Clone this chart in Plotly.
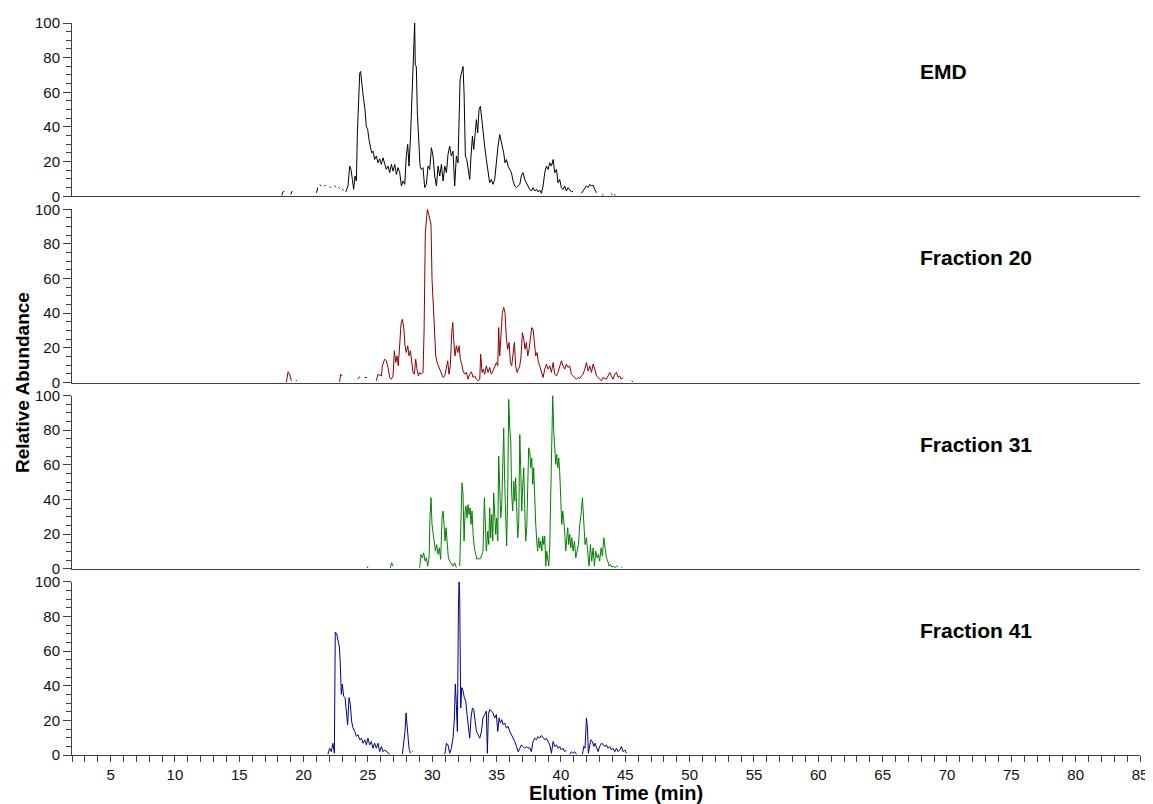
import plotly.graph_objects as go
from plotly.subplots import make_subplots

# ---------------- data ----------------
panel_labels = ["EMD", "Fraction 20", "Fraction 31", "Fraction 41"]
x_tick_values = [5, 10, 15, 20, 25, 30, 35, 40, 45, 50, 55, 60, 65, 70, 75, 80, 85]
y_tick_values = [0, 20, 40, 60, 80, 100]

emd_time = [18.3, 18.4, 18.5, None, 19.0, 19.1, None,
            21.0, 21.1, None, 21.25, 21.35, None, 21.6, 21.7, None, 22.0, 22.1, None,
            22.4, 22.5, None, 22.7, 22.8, None, 23.0, 23.1, None,
            23.27, 23.45, 23.58, 23.68, 23.79, 23.89, 23.99, 24.1, 24.18, 24.25,
            24.36, 24.43, 24.51, 24.59, 24.67, 24.77, 24.87, 24.98, 25.08, 25.19,
            25.29, 25.39, 25.52, 25.65, 25.78, 25.91, 26.04, 26.17, 26.3, 26.43,
            26.56, 26.69, 26.82, 26.95, 27.08, 27.21, 27.34, 27.47, 27.6, 27.73,
            27.86, 27.98, 28.09, 28.19, 28.3, 28.4, 28.5, 28.58, 28.63, 28.68,
            28.76, 28.84, 28.94, 29.05, 29.15, 29.28, 29.41, 29.54, 29.67, 29.8,
            29.93, 30.06, 30.19, 30.32, 30.45, 30.58, 30.71, 30.84, 30.97, 31.1,
            31.22, 31.35, 31.48, 31.61, 31.74, 31.87, 32.0, 32.08, 32.16, 32.23,
            32.31, 32.39, 32.47, 32.57, 32.68, 32.78, 32.91, 33.01, 33.12, 33.22,
            33.32, 33.43, 33.53, 33.63, 33.74, 33.84, 33.94, 34.07, 34.2, 34.33,
            34.46, 34.59, 34.72, 34.85, 34.98, 35.11, 35.24, 35.34, 35.45, 35.55,
            35.65, 35.76, 35.89, 36.02, 36.15, 36.28, 36.41, 36.54, 36.67, 36.8,
            36.92, 37.05, 37.18, 37.31, 37.44, 37.57, 37.7, 37.83, 37.96, 38.09,
            38.22, 38.35, 38.48, 38.61, 38.74, 38.87, 39.0, 39.13, 39.26, 39.39,
            39.52, 39.65, 39.77, 39.9, 40.03, 40.16, 40.29, 40.42, 40.55, 40.68,
            40.81, 40.94, None,
            41.59, 41.72, 41.85, 41.98, 42.11, 42.24, 42.37, 42.5, 42.63, 42.76,
            None, 43.2, 43.3, None, 43.9, 44.0, None, 44.15, 44.22]
emd_abund = [0.5, 2.5, 3, None, 1, 3, None,
             2, 5, None, 6.5, 6.2, None, 6, 6.3, None, 5.5, 5, None,
             6, 5.5, None, 5, 4.5, None, 4, 3.5, None,
             2.5, 5.9, 17.4, 15.5, 9.7, 4, 11.7, 8.8, 36.6, 53.8,
             71, 72, 63.4, 60.5, 55.7, 50, 40.4, 38.5, 32.7, 28.9,
             25, 26, 21.2, 23.2, 19.3, 21.6, 18.4, 22.2, 19.3, 15.5,
             17.4, 13.6, 18.4, 14.5, 18.4, 12.6, 16.5, 13.6, 5.9, 8.8,
             6.9, 23.2, 29.9, 17.4, 32.7, 53.8, 65.3, 84.5, 100, 75.8,
             74.9, 48, 30.8, 17.4, 15.5, 16.5, 5, 6.9, 17.4, 15.5,
             28, 23.2, 11.7, 5.9, 17.4, 11.7, 18.4, 8.8, 17.4, 13.6,
             24.1, 28.9, 23.2, 26, 5.9, 23.2, 19.3, 40.4, 67.2, 70.1,
             73, 74.9, 59.6, 23.2, 21.2, 15.5, 9.7, 23.2, 34.7, 27,
             36.6, 44.2, 36.6, 50, 51.9, 44.2, 36.6, 28.9, 21.2, 13.6,
             7.8, 9.7, 6.9, 9.7, 21.2, 28.9, 35.6, 32.7, 28.9, 25,
             19.3, 21.2, 17.4, 15.5, 13.6, 8.8, 5.9, 5, 5.9, 6.9,
             11.7, 13.6, 9.7, 7.8, 5, 4, 3, 5, 3, 4,
             2.5, 3.6, 1.7, 5.9, 13.6, 17.4, 15.5, 19.3, 17.4, 21.2,
             13.6, 15.5, 7.8, 9.7, 5, 4, 5.9, 3, 5, 4,
             2.5, 3, None,
             1.7, 3, 4, 5.9, 5, 6.9, 5.9, 6.3, 4, 2,
             None, 0.5, 1.2, None, 1.5, 0.8, None, 1.2, 0.5]

f20_time = [18.66, 18.79, 18.91, 19.05, None, 19.38, 19.49, None,
            22.8, 22.88, 23.01, None, 24.23, 24.36, None, 24.75, 24.93, None,
            25.65, 25.78, 25.91, 26.04, 26.12, 26.3, 26.43, 26.56, 26.69, 26.82,
            26.95, 27.05, 27.16, 27.26, 27.36, 27.47, 27.57, 27.67, 27.78, 27.88,
            27.98, 28.09, 28.19, 28.3, 28.4, 28.5, 28.61, 28.71, 28.81, 28.92,
            29.02, 29.15, 29.28, 29.36, 29.46, 29.54, 29.62, 29.72, 29.82, 29.9,
            29.98, 30.06, 30.16, 30.27, 30.37, 30.47, 30.58, 30.71, 30.84, 30.97,
            31.1, 31.2, 31.3, 31.4, 31.51, 31.59, 31.66, 31.77, 31.87, 31.98,
            32.08, 32.18, 32.29, 32.39, 32.52, 32.65, 32.78, 32.91, 33.04, 33.17,
            33.3, 33.43, 33.56, 33.69, 33.76, 33.87, 33.97, 34.07, 34.2, 34.33,
            34.46, 34.59, 34.72, 34.85, 34.98, 35.09, 35.16, 35.24, 35.34, 35.45,
            35.55, 35.65, 35.76, 35.86, 35.97, 36.07, 36.17, 36.28, 36.38, 36.48,
            36.59, 36.69, 36.8, 36.9, 37.0, 37.11, 37.21, 37.31, 37.42, 37.52,
            37.62, 37.73, 37.83, 37.94, 38.04, 38.14, 38.25, 38.35, 38.48, 38.61,
            38.74, 38.87, 39.0, 39.13, 39.26, 39.39, 39.52, 39.65, 39.77, 39.9,
            40.03, 40.16, 40.29, 40.42, 40.55, 40.68, 40.81, 40.94, 41.07, 41.2,
            41.33, 41.46, 41.59, 41.72, 41.85, 41.98, 42.11, 42.24, 42.37, 42.5,
            42.63, 42.76, 42.89, 43.01, 43.14, 43.27, 43.53, 43.66, 43.79, 43.92,
            44.05, 44.18, 44.31, 44.44, 44.57, 44.7, 44.83, None, 45.48, 45.6]
f20_abund = [0, 6.2, 4.8, 1, None, 1, 1.3, None,
             0.4, 4.8, 3.8, None, 2, 3.5, None, 2.9, 2.9, None,
             1, 4.8, 4.2, 3.8, 9.6, 13.5, 12.5, 8.7, 2.9, 1.9,
             3.8, 18.3, 11.5, 15.4, 9.6, 25, 33.7, 36.5, 31.7, 21.2,
             17.3, 21.2, 15.4, 18.3, 11.5, 5.8, 4.8, 13.5, 7.7, 3.8,
             5.8, 4.8, 5.8, 28.8, 86.5, 94.2, 100, 97.1, 94.2, 91.3,
             59.6, 48, 28.8, 15.4, 11.5, 9.6, 7.7, 5.8, 2.9, 3.8,
             7.7, 12.5, 4.8, 9.6, 28.8, 34.6, 25, 15.4, 21.2, 17.3,
             21.2, 13.5, 10.6, 6.7, 4.8, 5.8, 1.9, 4.8, 6.2, 2.9,
             3.8, 1.9, 1, 1.9, 16.3, 5.8, 7.7, 4.8, 9.6, 5.8,
             8.7, 4.8, 6.7, 8.7, 11.5, 9.6, 31.7, 15.4, 28.8, 40.4,
             43.3, 40.4, 25, 19.2, 23.1, 11.5, 9.6, 15.4, 23.1, 9.6,
             5.8, 7.7, 9.6, 15.4, 28.8, 25, 19.2, 23.1, 15.4, 19.2,
             25, 31.7, 30.8, 23.1, 15.4, 17.3, 11.5, 9.6, 5.8, 2.9,
             7.7, 10.6, 7.7, 9.6, 5.8, 11.5, 4.8, 3.8, 5.8, 8.7,
             12.5, 9.6, 7.7, 10.6, 8.7, 9.6, 4.8, 3.8, 2.9, 1.9,
             2.9, 2.3, 3.8, 4.8, 7.7, 11.5, 6.7, 9.6, 5.8, 10.6,
             7.7, 3.8, 2.9, 1.9, 1, 2.9, 1.9, 3.8, 5.8, 3.8,
             1.9, 4.8, 5.8, 2.9, 3.8, 1.9, 2.9, None, 1, 0.4]

f31_time = [24.95, 25.0, None, 26.74, 26.84, 26.95, None,
            29.02, 29.12, 29.23, 29.33, 29.44, 29.54, 29.64, 29.75, 29.82, 29.9,
            29.98, 30.06, 30.14, 30.24, 30.34, 30.45, 30.55, 30.65, 30.76, 30.84,
            30.91, 30.99, 31.07, 31.15, 31.25, 31.35, 31.48, 31.61, 31.74, 31.87,
            None, 32.13, 32.23, 32.31, 32.39, 32.47, 32.55, 32.62, 32.7, 32.78,
            32.86, 32.94, 33.01, 33.09, 33.17, 33.27, 33.38, 33.48, 33.58, 33.69,
            33.82, 33.94, 34.05, 34.13, 34.2, 34.31, 34.39, 34.46, 34.54, 34.62,
            34.7, 34.77, 34.85, 34.93, 35.01, 35.09, 35.16, 35.24, 35.32, 35.4,
            35.47, 35.55, 35.63, 35.71, 35.78, 35.86, 35.94, 36.02, 36.1, 36.17,
            36.25, 36.33, 36.41, 36.48, 36.56, 36.64, 36.72, 36.8, 36.87, 36.95,
            37.03, 37.11, 37.18, 37.26, 37.34, 37.42, 37.49, 37.57, 37.65, 37.73,
            37.81, 37.88, 37.96, 38.04, 38.12, 38.19, 38.27, 38.35, 38.43, 38.51,
            38.58, 38.66, 38.74, 38.82, 38.89, 38.97, 39.05, 39.13, 39.2, 39.28,
            39.36, 39.44, 39.52, 39.59, 39.67, 39.75, 39.83, 39.9, 39.98, 40.06,
            40.14, 40.21, 40.29, 40.37, 40.45, 40.53, 40.6, 40.68, 40.76, 40.84,
            40.94, 41.05, 41.15, 41.25, 41.36, 41.46, 41.56, 41.67, 41.77, 41.87,
            41.98, 42.08, 42.18, 42.29, 42.39, 42.5, 42.6, 42.7, 42.81, 42.91,
            43.01, 43.12, 43.22, 43.33, 43.43, 43.53, 43.64, 43.74, 43.84, 43.95,
            44.05, 44.18, 44.31, 44.44, None, 44.65, 44.72]
f31_abund = [0.3, 1.5, None, 0.5, 3.5, 1.5, None,
             0.6, 8.3, 6.3, 9.2, 4.4, 6.3, 1.5, 6.3, 29.4, 41,
             25.6, 19.8, 16, 10.2, 14, 8.3, 12.1, 5.4, 29.4, 33.3,
             25.6, 16, 23.7, 14, 6.3, 4.4, 2.5, 1.5, 3.5, 0.6,
             None, 1.5, 25.6, 49.6, 42.9, 16, 33.3, 36.2, 29.4, 37.1,
             31.3, 35.2, 25.6, 33.3, 19.8, 12.1, 8.3, 5.4, 6.3, 5.4,
             7.3, 10.2, 41, 16, 10.2, 21.7, 14, 35.2, 17.9, 31.3,
             16, 43.8, 33.3, 19.8, 29.4, 16, 65, 48.7, 29.4, 37.1,
             58.3, 81.3, 48.7, 21.7, 13.1, 42.9, 97.7, 81.3, 73.7, 42.9,
             33.3, 50.6, 39, 52.5, 29.4, 17.9, 27.5, 77.5, 58.3, 33.3,
             48.7, 58.3, 35.2, 16, 23.7, 48.7, 69.8, 67.9, 58.3, 64,
             48.7, 58.3, 39, 25.6, 16, 10.2, 17.9, 12.1, 16, 10.2,
             18.8, 14, 18.8, 1.5, 10.2, 6.3, 1.5, 14, 39, 67.9,
             100, 79.4, 66, 60.2, 66, 58.3, 64, 56.3, 41, 25.6,
             33.3, 29.4, 21.7, 10.2, 16, 23.7, 14, 19.8, 12.1, 17.9,
             10.2, 16, 6.3, 10.2, 14, 25.6, 31.3, 41, 29.4, 14,
             17.9, 8.3, 1.5, 14, 4.4, 12.1, 1.5, 10.2, 6.3, 8.3,
             4.4, 12.1, 7.3, 17.9, 10.2, 6.3, 4.4, 1.5, 2.5, 1,
             1.5, 0.6, 1.5, 1, None, 1, 0.8]

f41_time = [21.89, 22.02, 22.15, 22.28, 22.39, 22.46, 22.57, 22.67, 22.78, 22.85,
            22.93, 23.01, 23.11, 23.22, 23.32, 23.42, 23.53, 23.63, 23.73, 23.84,
            23.97, 24.1, 24.23, 24.36, 24.49, 24.62, 24.75, 24.88, 25.0, 25.13,
            25.26, 25.39, 25.52, 25.65, 25.78, 25.91, 26.04, 26.17, 26.3, 26.43,
            26.56, 26.69, None, 27.67, 27.78, 27.88, 27.96, 28.04, 28.11, 28.19,
            28.3, None, 28.42, 28.48, None, 30.97, 31.1, 31.22, 31.35, 31.48,
            31.61, 31.72, 31.79, 31.87, 31.95, 32.03, 32.08, 32.13, 32.21, 32.29,
            32.39, 32.49, 32.6, 32.7, 32.8, 32.91, 33.01, 33.12, 33.22, 33.32,
            33.43, 33.56, 33.69, 33.82, 33.94, 34.07, 34.2, 34.28, 34.36, 34.46,
            34.59, 34.72, 34.85, 34.98, 35.09, 35.19, 35.29, 35.4, 35.5, 35.63,
            35.76, 35.89, 36.02, 36.15, 36.28, 36.41, 36.54, 36.67, 36.8, 36.92,
            37.05, 37.18, 37.31, 37.44, 37.57, 37.7, 37.83, 37.96, 38.09, 38.22,
            38.35, 38.48, 38.61, 38.74, 38.87, 39.0, 39.13, 39.26, 39.39, 39.52,
            39.65, 39.77, 39.9, 40.03, 40.16, 40.29, 40.42, None, 40.68, 40.81,
            40.94, 41.07, 41.2, None, 41.67, 41.77, 41.87, 41.98, 42.06, 42.13,
            42.24, 42.34, 42.44, 42.55, 42.65, 42.76, 42.89, 43.01, 43.14, 43.27,
            43.4, 43.53, 43.66, 43.79, 43.92, 44.05, 44.18, 44.31, 44.44, 44.57,
            44.7, 44.83, 44.96, 45.09]
f41_abund = [0.4, 3.9, 1.9, 6.8, 1, 71, 70, 66.1, 62.3, 52.5,
             35, 40.9, 34, 33.1, 23.3, 17.5, 33.1, 29.2, 19.5, 15.6,
             13.6, 10.7, 11.7, 8.8, 9.7, 6.8, 8.8, 5.8, 9.7, 5.8,
             7.8, 3.9, 6.8, 3.9, 6.8, 1.9, 4.9, 1.9, 2.9, 1.9,
             1, 0.4, None, 0.4, 5.8, 13.6, 24.3, 15.6, 7.8, 3.9,
             1, None, 2.3, 2.0, None, 0.4, 6.8, 5.8, 1, 3.9,
             9.7, 21.4, 40.9, 29.2, 13.6, 83.7, 100, 91.4, 27.2, 38.9,
             37, 33.1, 31.1, 23.3, 17.5, 9.7, 21.4, 27.2, 26.3, 19.5,
             13.6, 11.7, 9.7, 13.6, 21.4, 23.3, 25.3, 1, 23.3, 26.3,
             25.3, 24.3, 21.4, 23.3, 13.6, 21.4, 18.5, 20.4, 17.5, 18.5,
             15.6, 16.5, 13.6, 11.7, 9.7, 7.8, 4.9, 1.9, 3.9, 5.8,
             4.9, 3.9, 4.9, 3.9, 4.3, 1.9, 7.8, 9.7, 8.8, 10.7,
             9.7, 11.3, 10.1, 8.8, 9.7, 7.8, 5.8, 1, 7.8, 4.9,
             5.8, 3.9, 4.9, 2.9, 3.9, 1.9, 2.9, None, 0.4, 1.9,
             1, 1.9, 0.4, None, 0.4, 4.9, 3.9, 21.4, 15.6, 1,
             5.8, 8.8, 7.8, 4.9, 6.8, 3.9, 1.9, 4.9, 6.8, 6.2,
             4.9, 5.8, 3.9, 4.9, 2.9, 3.9, 1.9, 3.9, 1.9, 2.9,
             4.9, 1.9, 2.9, 1]

line_colors = ["#000000", "#8B0000", "#008000", "#00008B"]

series = [(emd_time, emd_abund), (f20_time, f20_abund),
          (f31_time, f31_abund), (f41_time, f41_abund)]
for t, v in series:
    assert len(t) == len(v), (len(t), len(v))

# ---------------- figure ----------------
FONT = "Liberation Sans, Arial, Helvetica, sans-serif"
AX = "#404040"
TICKFONT = dict(family=FONT, size=15, color="#111")

fig = make_subplots(rows=4, cols=1, shared_xaxes=True, vertical_spacing=13 / 732)

for i, ((t, v), col, lab) in enumerate(zip(series, line_colors, panel_labels), start=1):
    fig.add_trace(go.Scatter(x=t, y=v, mode="lines", name=lab,
                             line=dict(color=col, width=1),
                             showlegend=False, hoverinfo="skip"),
                  row=i, col=1)
    fig.update_yaxes(row=i, col=1, range=[0, 100], tickmode="array",
                     tickvals=y_tick_values, ticks="outside", ticklen=8,
                     tickcolor=AX, showline=True, linecolor=AX, linewidth=1,
                     showgrid=False, zeroline=False, automargin=False,
                     tickfont=TICKFONT,
                     minor=dict(dtick=5, tick0=0, ticks="outside", ticklen=5,
                                tickcolor=AX))
    is_bottom = (i == 4)
    fig.update_xaxes(row=i, col=1, range=[2, 85], showline=True, linecolor=AX,
                     linewidth=1, showgrid=False, zeroline=False,
                     automargin=False,
                     ticks="outside" if is_bottom else "",
                     showticklabels=is_bottom, tickmode="array",
                     tickvals=x_tick_values, ticklen=6, tickcolor=AX,
                     tickfont=TICKFONT,
                     minor=dict(dtick=1, tick0=0,
                                ticks="outside" if is_bottom else "",
                                ticklen=6, tickcolor=AX))
    yref = "y domain" if i == 1 else f"y{i} domain"
    fig.add_annotation(text=f"<b>{lab}</b>", xref="paper", yref=yref,
                       x=(918 - 72) / 1068, y=0.72, xanchor="left",
                       yanchor="middle", showarrow=False,
                       font=dict(family=FONT, size=21, color="#000"))

fig.add_annotation(text="<b>Relative Abundance</b>", xref="paper", yref="paper",
                   x=(22 - 72) / 1068, y=(755 - 383) / 732, textangle=-90,
                   xanchor="center", yanchor="middle", showarrow=False,
                   font=dict(family=FONT, size=19, color="#000"))
fig.add_annotation(text="<b>Elution Time (min)</b>", xref="paper", yref="paper",
                   x=(616 - 72) / 1068, y=(755 - 793) / 732,
                   xanchor="center", yanchor="middle", showarrow=False,
                   font=dict(family=FONT, size=20, color="#000"))

# the page places the figure 8 px in from the top-left corner
fig.update_layout(width=1145, height=796,
                  margin=dict(l=64, r=13, t=15, b=49, autoexpand=False),
                  paper_bgcolor="white", plot_bgcolor="white",
                  font=dict(family=FONT))

fig.write_html("out.html")
